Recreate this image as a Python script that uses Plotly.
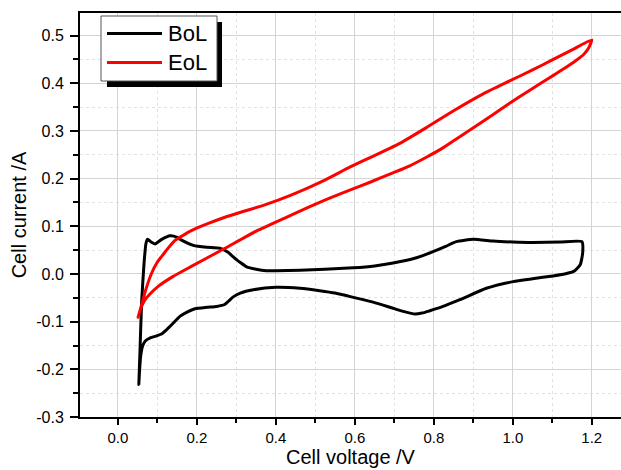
import plotly.graph_objects as go

# Cyclic voltammograms: beginning of life (BoL) and end of life (EoL)
bol_voltage = [0.053, 0.056, 0.060, 0.066, 0.071, 0.075, 0.084, 0.094, 0.110, 0.132,
               0.150, 0.161, 0.191, 0.225, 0.258, 0.278, 0.292, 0.310, 0.326, 0.350,
               0.376, 0.400, 0.461, 0.524, 0.596, 0.650, 0.697, 0.756, 0.798, 0.830,
               0.857, 0.900, 0.950, 1.000, 1.051, 1.120, 1.175,
               1.177, 1.171, 1.157, 1.136, 1.102, 1.050, 1.001, 0.933, 0.866, 0.820,
               0.790, 0.770, 0.752, 0.725, 0.697, 0.650, 0.596, 0.550, 0.511, 0.461,
               0.400, 0.343, 0.310, 0.292, 0.270, 0.250, 0.225, 0.195, 0.175, 0.157,
               0.138, 0.123, 0.110, 0.098, 0.082, 0.070, 0.063, 0.058, 0.055, 0.053]
bol_current = [-0.232, -0.160, -0.060, 0.020, 0.064, 0.073, 0.067, 0.063, 0.072, 0.080,
               0.077, 0.071, 0.060, 0.056, 0.054, 0.046, 0.036, 0.024, 0.015, 0.010,
               0.007, 0.007, 0.008, 0.010, 0.013, 0.017, 0.023, 0.034, 0.047, 0.058,
               0.068, 0.073, 0.069, 0.067, 0.066, 0.067, 0.068,
               0.045, 0.020, 0.007, 0.001, -0.004, -0.010, -0.016, -0.030, -0.054, -0.069,
               -0.077, -0.082, -0.084, -0.079, -0.072, -0.060, -0.049, -0.040, -0.035, -0.030,
               -0.028, -0.033, -0.040, -0.048, -0.064, -0.068, -0.070, -0.073, -0.080, -0.089,
               -0.105, -0.117, -0.126, -0.130, -0.134, -0.140, -0.150, -0.170, -0.200, -0.232]

eol_voltage = [0.051, 0.060, 0.068, 0.085, 0.100, 0.111, 0.125, 0.144, 0.161, 0.186,
               0.229, 0.271, 0.313, 0.372, 0.440, 0.524, 0.587, 0.651, 0.714, 0.781,
               0.849, 0.925, 0.992, 1.050, 1.100, 1.150, 1.200,
               1.192, 1.180, 1.160, 1.130, 1.094, 1.040, 0.990, 0.940, 0.900, 0.860,
               0.820, 0.781, 0.739, 0.690, 0.640, 0.587, 0.524, 0.440, 0.355, 0.271,
               0.186, 0.140, 0.102, 0.080, 0.068, 0.058, 0.051]
eol_current = [-0.091, -0.065, -0.040, 0.001, 0.025, 0.037, 0.052, 0.070, 0.079, 0.091,
               0.106, 0.119, 0.130, 0.145, 0.166, 0.197, 0.224, 0.249, 0.274, 0.307,
               0.342, 0.378, 0.405, 0.428, 0.449, 0.470, 0.491,
               0.474, 0.461, 0.448, 0.431, 0.412, 0.384, 0.357, 0.329, 0.307, 0.285,
               0.263, 0.245, 0.227, 0.210, 0.193, 0.176, 0.155, 0.124, 0.092, 0.054,
               0.016, -0.005, -0.026, -0.043, -0.055, -0.072, -0.091]

x_tick_values = [0.0, 0.2, 0.4, 0.6, 0.8, 1.0, 1.2]
x_tick_labels = ["0.0", "0.2", "0.4", "0.6", "0.8", "1.0", "1.2"]
y_tick_values = [-0.3, -0.2, -0.1, 0.0, 0.1, 0.2, 0.3, 0.4, 0.5]
y_tick_labels = ["-0.3", "-0.2", "-0.1", "0.0", "0.1", "0.2", "0.3", "0.4", "0.5"]

x_title = "Cell voltage /V"
y_title = "Cell current /A"
series_names = ["BoL", "EoL"]
series_colors = ["#000000", "#ff0000"]

W, H = 621, 470
ML, MR, MT, MB = 80, 0, 13, 53
FONT = "Liberation Sans, Arial, sans-serif"


def px_x(px):
    return (px - ML) / (W - ML - MR)


def px_y(py):
    return (H - MB - py) / (H - MT - MB)


fig = go.Figure()
fig.add_trace(go.Scatter(x=bol_voltage, y=bol_current, mode="lines", name=series_names[0],
                         line=dict(color=series_colors[0], width=3, shape="spline", smoothing=0.5),
                         showlegend=False))
fig.add_trace(go.Scatter(x=eol_voltage, y=eol_current, mode="lines", name=series_names[1],
                         line=dict(color=series_colors[1], width=3, shape="spline", smoothing=0.5),
                         showlegend=False))

axis_common = dict(
    showline=True, linecolor="black", linewidth=2,
    tickwidth=1.5, tickcolor="black",
    showgrid=True, gridcolor="#d4d4d4", gridwidth=1,
    zeroline=False,
)

fig.update_xaxes(
    range=[-0.096, 1.274], tickvals=x_tick_values, ticktext=x_tick_labels,
    mirror=True, ticks="outside", ticklen=6,
    tickfont=dict(family=FONT, size=15, color="black"),
    minor=dict(dtick=0.1, tick0=0, ticks="outside", ticklen=4, tickcolor="black",
               showgrid=True, gridcolor="#e2e2e2", griddash="dot"),
    **axis_common,
)
fig.update_yaxes(
    range=[-0.3, 0.5475], tickvals=y_tick_values, ticktext=y_tick_labels,
    ticks="outside", ticklen=8,
    tickfont=dict(family=FONT, size=16, color="black"),
    minor=dict(dtick=0.05, tick0=0, ticks="outside", ticklen=5, tickcolor="black",
               showgrid=True, gridcolor="#e2e2e2", griddash="dot"),
    title=dict(text=y_title, font=dict(family=FONT, size=20, color="black"), standoff=4),
    ticklabelstandoff=3,
    **axis_common,
)

# Framed legend with a drop shadow
shapes = [
    dict(type="rect", xref="paper", yref="paper", layer="above",
         x0=px_x(107), x1=px_x(222), y0=px_y(22), y1=px_y(87),
         fillcolor="black", line=dict(width=0)),
    dict(type="rect", xref="paper", yref="paper", layer="above",
         x0=px_x(101), x1=px_x(217), y0=px_y(16), y1=px_y(81),
         fillcolor="white", line=dict(color="#555555", width=1)),
]
annotations = [
    dict(text=x_title, xref="paper", yref="paper", x=0.5, y=px_y(445),
         xanchor="center", yanchor="top", showarrow=False, borderpad=0,
         font=dict(family=FONT, size=20, color="black")),
]
for i, (name, color) in enumerate(zip(series_names, series_colors)):
    yc = 33.5 + i * 29
    shapes.append(dict(type="line", xref="paper", yref="paper", layer="above",
                       x0=px_x(107), x1=px_x(162), y0=px_y(yc), y1=px_y(yc),
                       line=dict(color=color, width=3)))
    annotations.append(dict(text=name, xref="paper", yref="paper", x=px_x(166), y=px_y(yc),
                            xanchor="left", yanchor="middle", showarrow=False,
                            font=dict(family=FONT, size=22, color="black")))

fig.update_layout(
    width=W, height=H,
    margin=dict(l=ML, r=MR, t=MT, b=MB),
    paper_bgcolor="white", plot_bgcolor="white",
    shapes=shapes, annotations=annotations,
    showlegend=False,
)

fig.write_html("out.html")
